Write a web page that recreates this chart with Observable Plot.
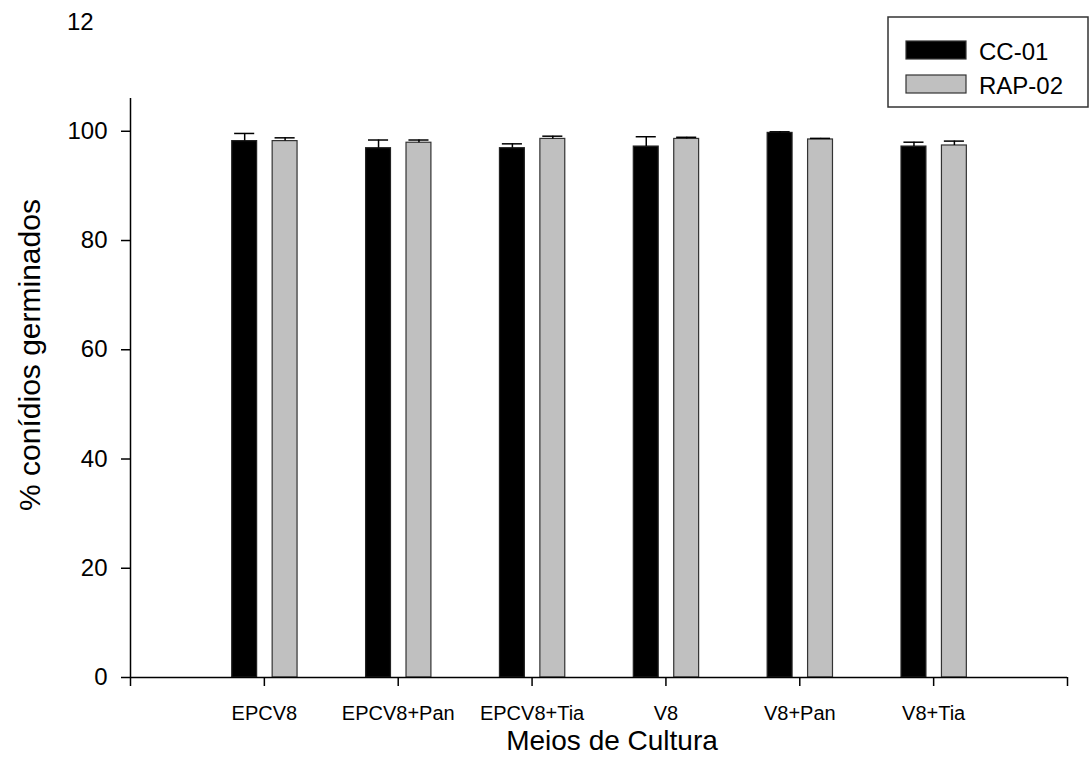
<!DOCTYPE html>
<html>
<head>
<meta charset="utf-8">
<script src="https://cdn.jsdelivr.net/npm/d3@7"></script>
<script src="https://cdn.jsdelivr.net/npm/@observablehq/plot@0.6"></script>
<style>
  html, body { margin: 0; padding: 0; background: white; }
  #chart { position: relative; width: 1089px; height: 773px; }
</style>
</head>
<body>
<div id="chart"></div>
<script>
const categories = ["EPCV8", "EPCV8+Pan", "EPCV8+Tia", "V8", "V8+Pan", "V8+Tia"];
const series = ["CC-01", "RAP-02"];
const cc01 = [98.2, 96.9, 96.9, 97.2, 99.7, 97.2];
const cc01Err = [1.4, 1.5, 0.8, 1.8, 0.2, 0.8];
const rap02 = [98.2, 97.9, 98.6, 98.6, 98.5, 97.4];
const rap02Err = [0.6, 0.5, 0.5, 0.3, 0.2, 0.8];
const yTicks = [0, 20, 40, 60, 80, 100];
const xTitle = "Meios de Cultura";
const yTitle = "% conídios germinados";
const strayLabel = "12";

const font = "'Liberation Sans', Arial, sans-serif";
const colors = ["#000000", "#c0c0c0"];
const offsets = [-0.24, 0.062];   // bar start relative to group position (x units)
const barW = 0.186;
const capHalf = 0.075;

const rows = [];
categories.forEach((c, i) => {
  rows.push({cat: c, pos: i + 1, series: series[0], s: 0, value: cc01[i], err: cc01Err[i]});
  rows.push({cat: c, pos: i + 1, series: series[1], s: 1, value: rap02[i], err: rap02Err[i]});
});
const center = d => d.pos + offsets[d.s] + barW / 2;

const plot = Plot.plot({
  width: 1089,
  height: 773,
  marginLeft: 130,
  marginRight: 22,
  marginTop: 98,
  marginBottom: 96,
  style: {fontFamily: font, background: "white", color: "black"},
  x: {domain: [0, 7], axis: null},
  y: {domain: [0, 106], axis: null},
  color: {domain: series, range: colors},
  marks: [
    Plot.rectY(rows, {
      x1: d => d.pos + offsets[d.s],
      x2: d => d.pos + offsets[d.s] + barW,
      y1: 0,
      y2: "value",
      fill: "series",
      stroke: d => d.s === 0 ? "#222222" : "#333333",
      strokeWidth: 1.2
    }),
    Plot.ruleX(rows, {x: center, y1: "value", y2: d => d.value + d.err, stroke: "black", strokeWidth: 1.5}),
    Plot.ruleY(rows, {y: d => d.value + d.err, x1: d => center(d) - capHalf, x2: d => center(d) + capHalf, stroke: "black", strokeWidth: 1.5}),
    Plot.ruleX([0], {stroke: "black", strokeWidth: 1.5}),
    Plot.ruleY([0], {stroke: "black", strokeWidth: 1.5}),
    Plot.axisY({ticks: yTicks, tickSize: 9, tickPadding: 14, fontSize: 24, label: null, stroke: "black", strokeWidth: 1.5}),
    Plot.axisX({ticks: d3.range(0, 8), tickSize: 9, tickPadding: 19, fontSize: 20, label: null,
      tickFormat: i => categories[i - 1] ?? "", stroke: "black", strokeWidth: 1.5})
  ]
});

document.getElementById("chart").appendChild(plot);

const svg = d3.select(plot);
const g = svg.append("g").attr("font-family", font).attr("fill", "black");

g.append("text").attr("x", 67).attr("y", 30).attr("font-size", 24)
  .attr("text-anchor", "start").text(strayLabel);

g.append("text")
  .attr("transform", "translate(40,355) rotate(-90)")
  .attr("text-anchor", "middle")
  .attr("font-size", 30)
  .text(yTitle);

g.append("text")
  .attr("x", 612).attr("y", 750)
  .attr("text-anchor", "middle")
  .attr("font-size", 28)
  .text(xTitle);

// legend
const lg = svg.append("g").attr("font-family", font);
lg.append("rect").attr("x", 888).attr("y", 17).attr("width", 200).attr("height", 90)
  .attr("fill", "white").attr("stroke", "#333").attr("stroke-width", 1.5);
const legendY = [41, 75];
series.forEach((s, i) => {
  lg.append("rect").attr("x", 906).attr("y", legendY[i]).attr("width", 60).attr("height", 18)
    .attr("fill", colors[i]).attr("stroke", "#333").attr("stroke-width", 1.2);
  lg.append("text").attr("x", 979).attr("y", legendY[i] + 19).attr("font-size", 24)
    .attr("text-anchor", "start").attr("fill", "black").text(s);
});
</script>
</body>
</html>
